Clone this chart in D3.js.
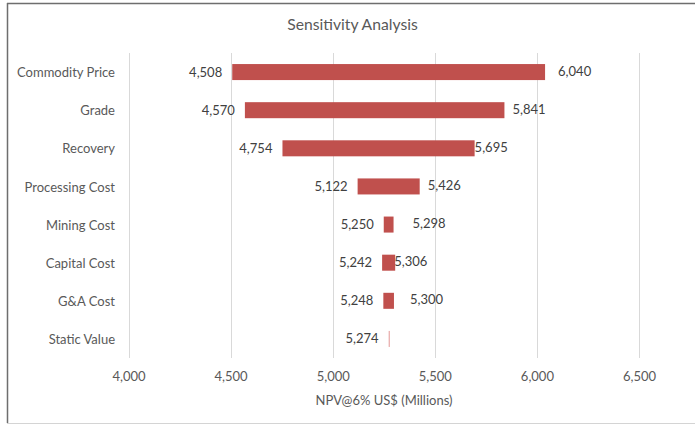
<!DOCTYPE html>
<html>
<head>
<meta charset="utf-8">
<script src="https://cdn.jsdelivr.net/npm/d3@7/dist/d3.min.js"></script>
<style>
  html, body { margin: 0; padding: 0; background: #fff; }
  svg { display: block; font-family: Lato, "Open Sans", sans-serif; }
</style>
</head>
<body>
<svg id="chart" width="695" height="426"></svg>
<script>
// Tornado chart: NPV range for each input driver
const categories = ["Commodity Price", "Grade", "Recovery", "Processing Cost",
                    "Mining Cost", "Capital Cost", "G&A Cost", "Static Value"];
const lowValues  = [4508, 4570, 4754, 5122, 5250, 5242, 5248, 5274];
const highValues = [6040, 5841, 5695, 5426, 5298, 5306, 5300, 5274];
const xTicks = [4000, 4500, 5000, 5500, 6000, 6500];
// horizontal nudge (px) for the high-side value labels
const highLabelNudge = [13, 8, 0, 8, 19, -1, 16, 0];

const svg = d3.select("#chart");
const W = 695, H = 426;
const FS = 13;

// chart frame
svg.append("rect").attr("x", 0).attr("y", 0).attr("width", W).attr("height", H).attr("fill", "#fff");
svg.append("line").attr("x1", 7).attr("x2", W).attr("y1", 3.5).attr("y2", 3.5)
  .attr("stroke", "#6e6e6e").attr("stroke-width", 1.5);
svg.append("line").attr("x1", 7.5).attr("x2", 7.5).attr("y1", 3).attr("y2", 423)
  .attr("stroke", "#6e6e6e").attr("stroke-width", 1.5);
svg.append("line").attr("x1", 7).attr("x2", W).attr("y1", 423.5).attr("y2", 423.5)
  .attr("stroke", "#d4d4d4").attr("stroke-width", 1);

const x = d3.scaleLinear().domain([4000, 6500]).range([128.5, 639]);
const y = d3.scaleBand().domain(categories).range([53, 358])
  .paddingInner(0.58).paddingOuter(0.29);

// vertical gridlines
svg.append("g").selectAll("line").data(xTicks).join("line")
  .attr("x1", d => Math.round(x(d)) + 0.5).attr("x2", d => Math.round(x(d)) + 0.5)
  .attr("y1", 53).attr("y2", 358)
  .attr("stroke", "#d9d9d9").attr("stroke-width", 1);

// x axis tick labels
const xAxis = d3.axisBottom(x).tickValues(xTicks).tickFormat(d3.format(",")).tickSize(0).tickPadding(0);
const gx = svg.append("g").attr("transform", "translate(0,372)").call(xAxis);
gx.select(".domain").remove();
gx.selectAll("text").attr("fill", "#595959").attr("font-size", FS)
  .attr("font-family", "Lato, sans-serif");

// category labels
const yAxis = d3.axisLeft(y).tickSize(0).tickPadding(0);
const gy = svg.append("g").attr("transform", "translate(115,1)").call(yAxis);
gy.select(".domain").remove();
gy.selectAll("text").attr("fill", "#595959").attr("font-size", FS)
  .attr("font-family", "Lato, sans-serif");

// bars
const rows = categories.map((c, i) => ({ c, lo: lowValues[i], hi: highValues[i], i }));
svg.append("g").selectAll("rect").data(rows).join("rect")
  .attr("x", d => x(d.lo))
  .attr("y", d => y(d.c))
  .attr("width", d => Math.max(x(d.hi) - x(d.lo), 1.2))
  .attr("height", y.bandwidth())
  .attr("fill", d => d.hi === d.lo ? "#e8a9a8" : "#c0504d");

const fmt = d3.format(",");
// low-side value labels
svg.append("g").selectAll("text").data(rows).join("text")
  .attr("x", d => x(d.lo) - 10)
  .attr("y", d => y(d.c) + y.bandwidth() / 2)
  .attr("dy", "0.35em")
  .attr("text-anchor", "end")
  .attr("fill", "#404040").attr("font-size", FS)
  .text(d => fmt(d.lo));

// high-side value labels
svg.append("g").selectAll("text").data(rows.filter(d => d.hi !== d.lo)).join("text")
  .attr("x", d => x(d.hi) + highLabelNudge[d.i])
  .attr("y", d => y(d.c) + y.bandwidth() / 2 - 1)
  .attr("dy", "0.35em")
  .attr("text-anchor", "start")
  .attr("fill", "#404040").attr("font-size", FS)
  .text(d => fmt(d.hi));

// titles
svg.append("text").attr("x", 352.5).attr("y", 30).attr("text-anchor", "middle")
  .attr("fill", "#595959").attr("font-size", 15.7).text("Sensitivity Analysis");
svg.append("text").attr("x", 384).attr("y", 405).attr("text-anchor", "middle")
  .attr("fill", "#595959").attr("font-size", FS).text("NPV@6% US$ (Millions)");
</script>
</body>
</html>
